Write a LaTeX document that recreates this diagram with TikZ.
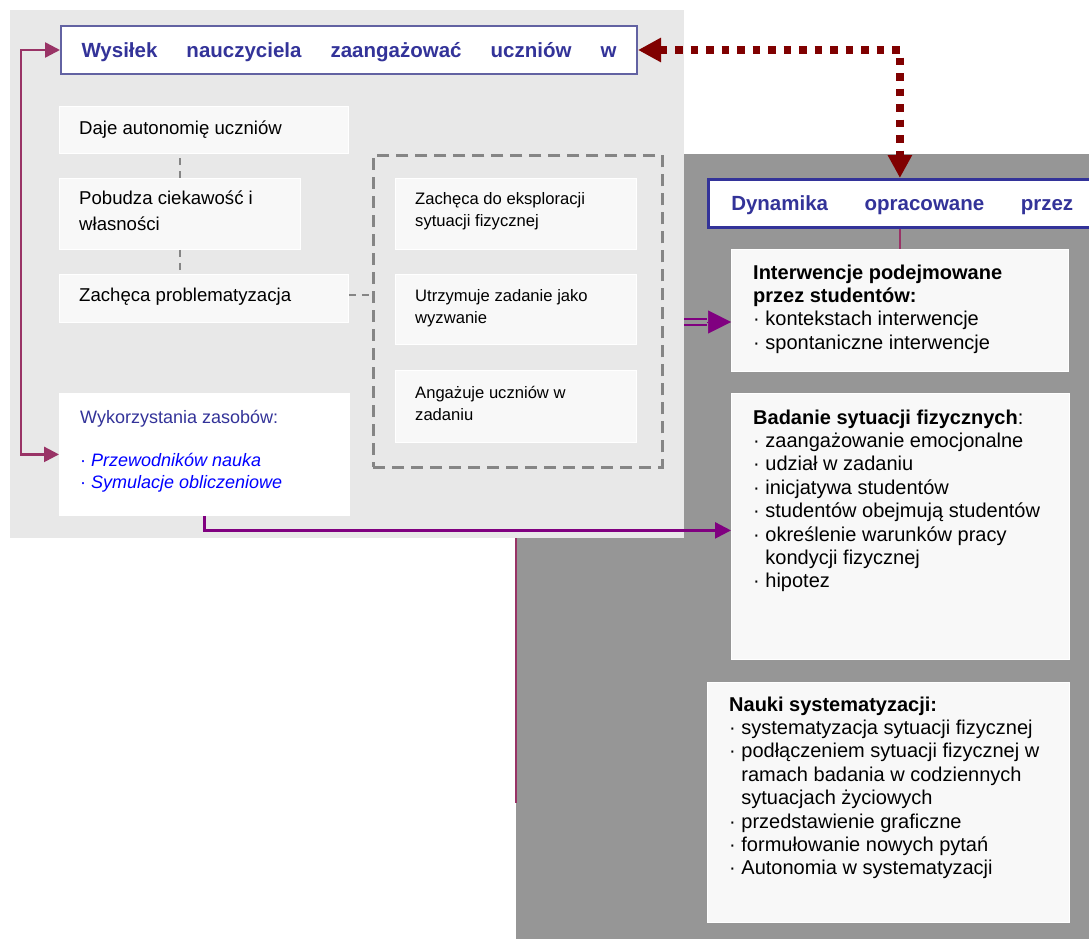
\documentclass[tikz,border=0pt]{standalone}
\usepackage{fontspec}
\setmainfont{Liberation Sans}
\usetikzlibrary{arrows.meta,calc}
\definecolor{lightpanel}{HTML}{E8E8E8}
\definecolor{darkpanel}{HTML}{969696}
\definecolor{boxfill}{HTML}{F8F8F8}
\definecolor{hdrblue}{HTML}{333399}
\definecolor{hdrborder}{HTML}{6262A2}
\definecolor{magline}{HTML}{993366}
\definecolor{purline}{HTML}{800080}
\definecolor{dotred}{HTML}{800000}
\definecolor{dashgray}{HTML}{858585}
\definecolor{linkblue}{HTML}{0000FF}
\begin{document}
\begin{tikzpicture}[x=1pt,y=-1pt,
  panel/.style={draw=none, inner sep=0, anchor=north west},
  card/.style={fill=boxfill, draw=white, line width=0.8, inner sep=0, anchor=north west},
  hdrbox/.style={fill=white, inner sep=0, anchor=north west, text=hdrblue,
     font=\fontsize{20.5}{24}\selectfont\bfseries, text height=14.7, text depth=0},
  txtL/.style={inner sep=0, anchor=base west, font=\fontsize{18.6}{25.5}\selectfont},
  txtS/.style={inner sep=0, anchor=base west, font=\fontsize{16.6}{22.5}\selectfont},
  txtR/.style={inner sep=0, anchor=base west, font=\fontsize{20}{23.4}\selectfont},
  linkdash/.style={draw=dashgray, line width=2, dash pattern=on 7pt off 6pt},
  dotarrow/.style={draw=dotred, line width=7.5, dash pattern=on 7.5pt off 8pt,
     {Triangle[length=23pt,width=23pt]}-{Triangle[length=23pt,width=23pt]}},
  magarrow/.style={draw=magline, line width=2.5,
     {Triangle[length=15pt,width=15pt]}-{Triangle[length=15pt,width=15pt]}},
  purarrow/.style={draw=purline, line width=2.5, -{Triangle[length=16pt,width=16pt]}},
]
\useasboundingbox (0,0) rectangle (1089,939);
\fill[white] (0,0) rectangle (1089,939);

% panels
\node[panel, fill=darkpanel, minimum width=590, minimum height=785] (dp) at (516,154) {};
\node[panel, fill=lightpanel, minimum width=674, minimum height=528] (lp) at (10,10) {};

% connector along the dark panel edge
\draw[magline, line width=1.5] (dp.west |- lp.south) -- ++(0,265);

% header boxes
\node[hdrbox, draw=hdrborder, line width=2, minimum width=576, minimum height=48] (h1) at (60,25)
  {\makebox[535pt][s]{Wysiłek nauczyciela zaangażować uczniów w}};
\node[hdrbox, draw=hdrblue, line width=2.5, minimum width=388, minimum height=48] (dyn) at (707,178)
  {\makebox[342pt][s]{Dynamika opracowane przez}};

% left column
\node[card, minimum width=289, minimum height=47] (daje) at (59,106) {};
\node[txtL] (dajet) at (79,134.7) {Daje autonomię uczniów};
\node[card, minimum width=241, minimum height=71] (pob) at (59,178) {};
\node[txtL] (pobt) at (79,204.7) {\parbox[t]{215pt}{\raggedright Pobudza ciekawość i\\własności}};
\node[card, minimum width=289, minimum height=48] (zp) at (59,274) {};
\node[txtL] (zpt) at (79,301.7) {Zachęca problematyzacja};

% dashed group
\node[panel, draw=dashgray, line width=2.5, dash pattern=on 12pt off 7pt,
      minimum width=289, minimum height=312] (dbox) at (372,154) {};
\node[card, minimum width=241, minimum height=71] (e1) at (395,178) {};
\node[txtS] (e1t) at (415,204) {\parbox[t]{215pt}{\raggedright Zachęca do eksploracji\\sytuacji fizycznej}};
\node[card, minimum width=241, minimum height=70] (e2) at (395,274) {};
\node[txtS] (e2t) at (415,301) {\parbox[t]{215pt}{\raggedright Utrzymuje zadanie jako\\wyzwanie}};
\node[card, minimum width=241, minimum height=72] (e3) at (395,370) {};
\node[txtS] (e3t) at (415,398) {\parbox[t]{215pt}{\raggedright Angażuje uczniów w\\zadaniu}};

% resources box
\node[card, fill=white, minimum width=290, minimum height=122] (wyk) at (59,393) {};
\node[txtL, font=\fontsize{18}{21.5}\selectfont] (wykt) at (80,423.5) {\parbox[t]{260pt}{\raggedright
  \textcolor{hdrblue}{Wykorzystania zasobów:}\\[21.5pt]
  \textcolor{linkblue}{· \textit{Przewodników nauka}}\\
  \textcolor{linkblue}{· \textit{Symulacje obliczeniowe}}}};

% right column
\node[card, minimum width=337, minimum height=122] (interv) at (731,249) {};
\node[txtR] (intervt) at (753,279) {\parbox[t]{300pt}{\raggedright
  \textbf{Interwencje podejmowane}\\
  \textbf{przez studentów:}\\
  · kontekstach interwencje\\
  · spontaniczne interwencje}};
\node[card, minimum width=338, minimum height=266] (bad) at (731,393) {};
\node[txtR] (badt) at (753,424) {\parbox[t]{310pt}{\raggedright
  \textbf{Badanie sytuacji fizycznych}:\\
  · zaangażowanie emocjonalne\\
  · udział w zadaniu\\
  · inicjatywa studentów\\
  · studentów obejmują studentów\\
  · określenie warunków pracy\\
  \phantom{·~}kondycji fizycznej\\
  · hipotez}};
\node[card, minimum width=362, minimum height=240] (nauki) at (707,682) {};
\node[txtR] (naukit) at (729,711) {\parbox[t]{335pt}{\raggedright
  \textbf{Nauki systematyzacji:}\\
  · systematyzacja sytuacji fizycznej\\
  · podłączeniem sytuacji fizycznej w\\
  \phantom{·~}ramach badania w codziennych\\
  \phantom{·~}sytuacjach życiowych\\
  · przedstawienie graficzne\\
  · formułowanie nowych pytań\\
  · Autonomia w systematyzacji}};

% dashed links in left column
\draw[linkdash] (pob.north) -- (pob.north |- daje.south);
\draw[linkdash] (pob.south) -- (pob.south |- zp.north);
\draw[linkdash] (zp.east |- 0,295) -- (dbox.west |- 0,295);

% connectors
\draw[dotarrow] (h1.east) -| (interv.north |- dyn.north);
\draw[magline, line width=2] (interv.north |- dyn.south) -- (interv.north);
\draw[magarrow] (h1.west) -- ++(-39,0) |- (wyk.west);
\coordinate (badin) at ($(bad.west)+(0,4)$);
\draw[purarrow] (wyk.south) |- (badin);
\coordinate (dastart) at (lp.east |- 0,322);
\coordinate (damid) at (707,322);
\draw[draw=purline, line width=2, double=darkpanel, double distance=4] (dastart) -- (damid);
\draw[purline, line width=0.5, -{Triangle[length=23pt,width=23pt]}] (damid) -- (interv.west |- damid);
\end{tikzpicture}
\end{document}
